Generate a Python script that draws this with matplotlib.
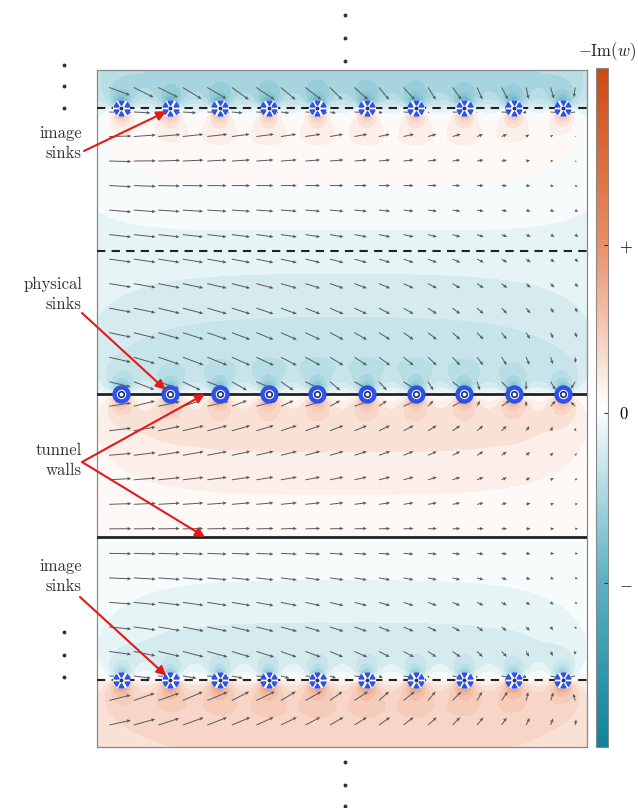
import numpy as np
import matplotlib.pyplot as plt
from matplotlib.colors import LinearSegmentedColormap, Normalize
from matplotlib.cm import ScalarMappable

plt.rcParams['font.family'] = ['cmr10', 'DejaVu Serif']
plt.rcParams['mathtext.fontset'] = 'cm'
plt.rcParams['axes.unicode_minus'] = False

# geometry, tunnel height = 1, wall with the sinks at y = 0
sink_x = [0.171, 0.514, 0.857, 1.200, 1.542, 1.885, 2.228, 2.570, 2.913, 3.256]
physical_y = 0.0
image_y = [4.0, 2.0, -2.0, -4.0, -6.0]
wall_y = [0.0, -1.0]
dashed_y = [2.0, 1.0, -2.0]
x_lim = (0.0, 3.427)
y_lim = (-2.469, 2.266)

# flow: free stream and strength of each sink
u_inf = 1.0
q_sink = 0.45

labels = ["image\nsinks", "physical\nsinks", "tunnel\nwalls", "image\nsinks"]
cbar_ticklabels = [r'$-$', r'$0$', r'$+$']


def velocity(z):
    # complex velocity u - i v: free stream + point sinks
    w = np.full(z.shape, u_inf, dtype=complex)
    for ys in [physical_y] + image_y:
        for xs in sink_x:
            w -= q_sink / (2 * np.pi) / (z - (xs + 1j * ys))
    return w


fig = plt.figure(figsize=(6.38, 8.08), dpi=100)
W, H = 638, 808
ax = fig.add_axes([97 / W, 1 - 747 / H, 490 / W, 677 / H])

# background field  -Im(w) = v
xg = np.linspace(*x_lim, 500)
yg = np.linspace(*y_lim, 700)
X, Y = np.meshgrid(xg, yg)
with np.errstate(all='ignore'):
    v = -velocity(X + 1j * Y).imag
vmax = 3.2
v = np.clip(np.nan_to_num(v), -vmax, vmax)

cmap = LinearSegmentedColormap.from_list(
    'tealorange', ['#0e8399', '#5fb2c5', '#ffffff', '#e88c62', '#cc4a12'])
levels = np.linspace(-vmax, vmax, 41)
ax.contourf(X, Y, v, levels=levels, cmap=cmap, zorder=0)

# arrows
d = sink_x[1] - sink_x[0]
xq = d / 4 + np.arange(0, 20) * d / 2
yq = d / 4 + np.arange(-14, 13) * d / 2
XQ, YQ = np.meshgrid(xq, yq)
wq = velocity(XQ + 1j * YQ)
uq, vq = wq.real, -wq.imag
sp = np.hypot(uq, vq)
f = np.minimum(1, 1.7 / sp)
ax.quiver(XQ, YQ, uq * f, vq * f, angles='xy', scale_units='xy', scale=11,
          color='#5a5a5a', width=0.002, headwidth=3.5, headlength=4,
          headaxislength=3.6, zorder=3)

# walls and image lines
for yy in wall_y:
    ax.axhline(yy, color='#222222', lw=2, zorder=4)
for yy in dashed_y:
    ax.axhline(yy, color='#222222', lw=1.5, dashes=(4, 3), zorder=4)

# physical sinks
ax.plot(sink_x, [physical_y] * len(sink_x), 'o', ms=10, mew=3.2, mec='#2d52ea',
        mfc='white', zorder=6)
ax.plot(sink_x, [physical_y] * len(sink_x), 'o', ms=4, mew=1.2, mec='#1c2a80',
        mfc='white', zorder=7)

# image sinks
r = 0.042
for yy in image_y:
    ax.plot(sink_x, [yy] * len(sink_x), 'o', ms=12.5, mfc='white', mec='none',
            zorder=6)
    for ang in [30, 90, 150, 210, 270, 330]:
        t = np.deg2rad(ang)
        ax.plot(np.array(sink_x) + r * np.cos(t), [yy + r * np.sin(t)] * len(sink_x),
                marker=(3, 0, ang + 90), ls='none', ms=4.2, color='#2d52ea', zorder=7)
    ax.plot(sink_x, [yy] * len(sink_x), 'o', ms=1.8, color='#333355', zorder=8)

ax.set_xlim(*x_lim)
ax.set_ylim(*y_lim)
ax.set_xticks([])
ax.set_yticks([])
for s in ax.spines.values():
    s.set_color('#888888')
    s.set_linewidth(0.9)

# annotations
arrow_kw = dict(arrowstyle='-|>', color='#e31a1c', lw=1.5, mutation_scale=14,
                shrinkA=0, shrinkB=0)
text_y = [143, 294, 460, 576]
for lab, ty in zip(labels, text_y):
    fig.text(82 / W, 1 - ty / H, lab, ha='right', va='center', fontsize=12,
             color='#333333', linespacing=1.4, multialignment='right')

arrows = [((84, 151), (sink_x[1] - 0.03, image_y[1] - 0.025)),
          ((82, 313), (sink_x[1] - 0.035, physical_y + 0.03)),
          ((82, 462), (0.755, wall_y[0])),
          ((82, 462), (0.755, wall_y[1])),
          ((80, 597), (sink_x[1] - 0.03, image_y[2] + 0.03))]
for (sx, sy), tip in arrows:
    ax.annotate('', xy=tip, xycoords='data', xytext=(sx / W, 1 - sy / H),
                textcoords='figure fraction', arrowprops=arrow_kw,
                annotation_clip=False, zorder=9)

# continuation dots
dots = [(64, 65), (64, 86), (64, 108), (64, 632), (64, 655), (64, 677),
        (345, 15), (345, 38), (345, 61), (345, 762), (345, 785), (345, 806)]
for px, py in dots:
    fig.add_artist(plt.Line2D([px / W], [1 - py / H], marker='o', ms=1.8,
                              color='#333333', transform=fig.transFigure))

# colorbar
cax = fig.add_axes([596 / W, 1 - 747 / H, 12 / W, 679 / H])
sm = ScalarMappable(norm=Normalize(-vmax, vmax), cmap=cmap)
cb = fig.colorbar(sm, cax=cax, ticks=[-0.517 * vmax, -0.016 * vmax, 0.478 * vmax])
cb.ax.set_yticklabels(cbar_ticklabels, fontsize=12)
cb.ax.tick_params(direction='in', length=3, width=0.8, color='#333333', pad=8)
cb.outline.set_edgecolor('#888888')
cb.outline.set_linewidth(0.8)
fig.text(607 / W, 1 - 52 / H, r'$-\mathrm{Im}(w)$', ha='center', va='center',
         fontsize=12, color='#222222')

fig.savefig('out.png', dpi=100)
